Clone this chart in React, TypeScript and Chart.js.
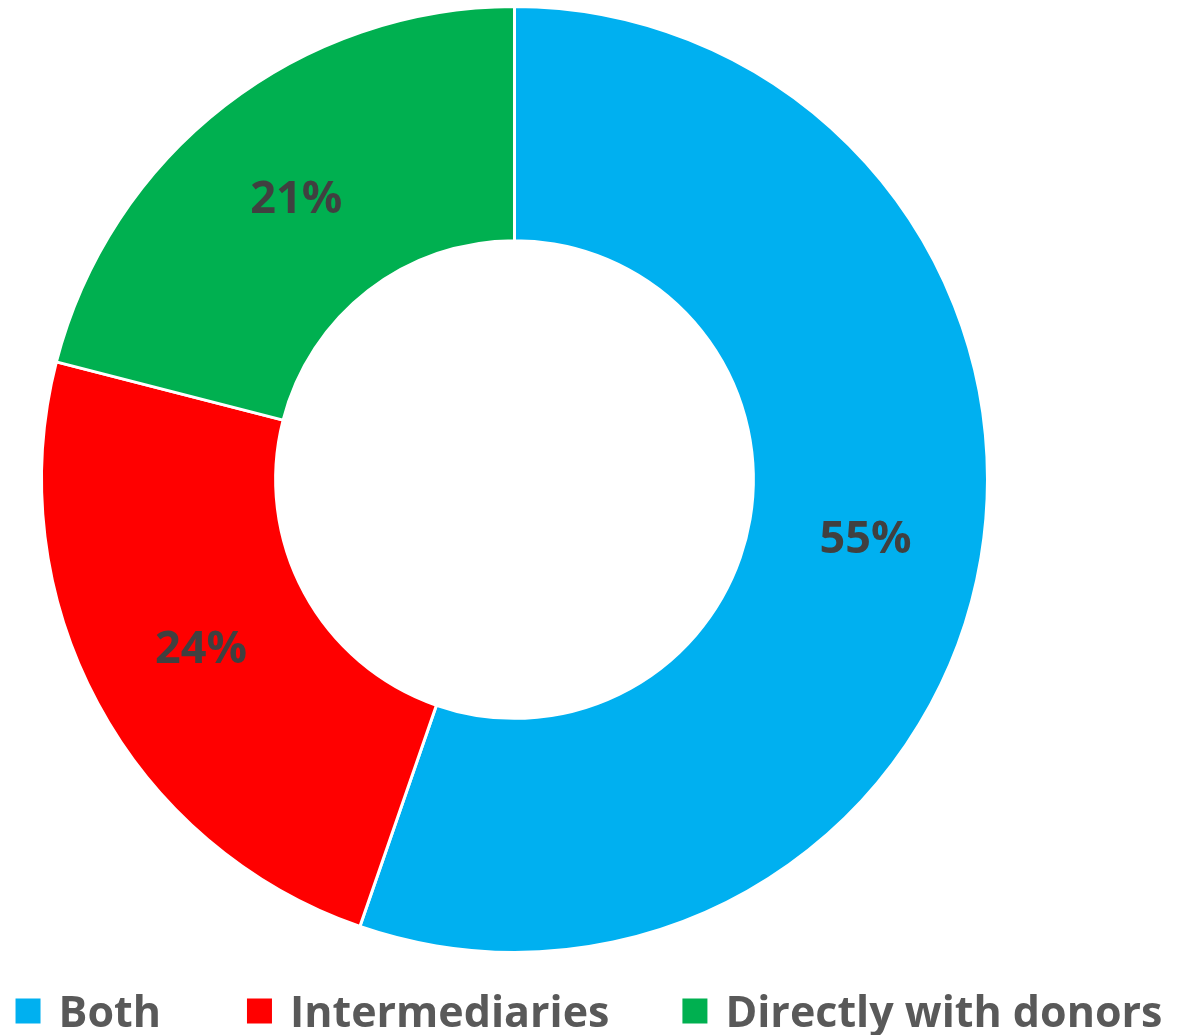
import React, { useEffect, useRef } from "react";
import { Chart, registerables } from "chart.js";

Chart.register(...registerables);

const categories = ["Both", "Intermediaries", "Directly with donors"];
const values = [55.3, 23.7, 21.0];
const valueLabels = ["55%", "24%", "21%"];
const colors = ["#00B0F0", "#FF0000", "#00B050"];

const FONT = "'Open Sans', 'DejaVu Sans', sans-serif";

const sliceLabelPlugin = {
  id: "sliceLabels",
  afterDatasetsDraw(chart: any) {
    const ctx = chart.ctx;
    const meta = chart.getDatasetMeta(0);
    ctx.save();
    ctx.font = `bold 45px ${FONT}`;
    ctx.fillStyle = "#404040";
    ctx.textAlign = "center";
    ctx.textBaseline = "middle";
    meta.data.forEach((arc: any, i: number) => {
      const { x, y, startAngle, endAngle, innerRadius, outerRadius } = arc.getProps(
        ["x", "y", "startAngle", "endAngle", "innerRadius", "outerRadius"],
        true
      );
      const mid = (startAngle + endAngle) / 2;
      const r = (innerRadius + outerRadius) / 2;
      ctx.fillText(valueLabels[i], x + Math.cos(mid) * r, y + Math.sin(mid) * r + 2);
    });
    ctx.restore();
  },
};

const legendPlugin = {
  id: "customLegend",
  afterDraw(chart: any) {
    const ctx = chart.ctx;
    ctx.save();
    ctx.font = `bold 43px ${FONT}`;
    const box = 25;
    const gapBoxText = 18;
    const itemGaps = [86, 73];
    const widths = categories.map((c) => box + gapBoxText + ctx.measureText(c).width);
    const total = widths.reduce((a, b) => a + b, 0) + itemGaps.reduce((a, b) => a + b, 0);
    let x = (chart.width - total) / 2 - 3;
    const cy = 1011;
    categories.forEach((c, i) => {
      ctx.fillStyle = colors[i];
      ctx.fillRect(x, cy - box / 2, box, box);
      ctx.fillStyle = "#595959";
      ctx.textAlign = "left";
      ctx.textBaseline = "alphabetic";
      ctx.fillText(c, x + box + gapBoxText, 1027);
      x += widths[i] + (itemGaps[i] || 0);
    });
    ctx.restore();
  },
};

export default function App() {
  const canvasRef = useRef<HTMLCanvasElement | null>(null);

  useEffect(() => {
    if (!canvasRef.current) return;
    const chart = new Chart(canvasRef.current, {
      type: "doughnut",
      data: {
        labels: categories,
        datasets: [
          {
            data: values,
            backgroundColor: colors,
            borderColor: "#FFFFFF",
            borderWidth: 3,
          },
        ],
      },
      options: {
        animation: false,
        responsive: true,
        maintainAspectRatio: false,
        cutout: "50.5%",
        layout: { padding: { left: 40, right: 195, top: 5, bottom: 81 } },
        plugins: {
          legend: { display: false },
          tooltip: { enabled: false },
        },
      },
      plugins: [sliceLabelPlugin, legendPlugin],
    });
    return () => chart.destroy();
  }, []);

  return (
    <div style={{ position: "fixed", left: 0, top: 0, width: 1184, height: 1035, background: "#FFFFFF" }}>
      <canvas ref={canvasRef} />
    </div>
  );
}
